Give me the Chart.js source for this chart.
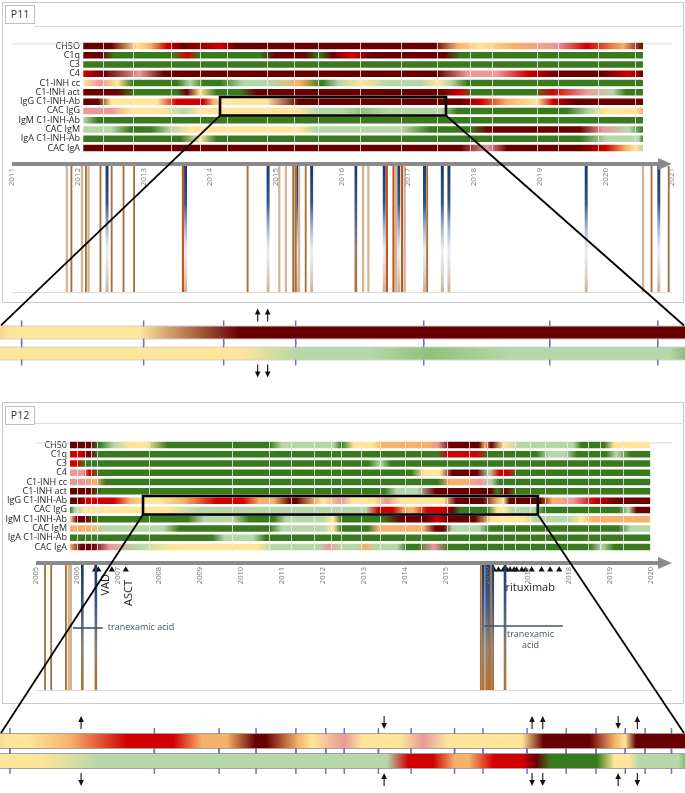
<!DOCTYPE html>
<html>
<head>
<meta charset="utf-8">
<script src="https://cdn.jsdelivr.net/npm/chart.js@4.4.1/dist/chart.umd.min.js"></script>
<style>
  body { margin: 0; width: 685px; height: 793px; position: relative; background: #fff; overflow: hidden; font-family: 'Open Sans', sans-serif; }
  canvas { position: absolute; }
  .frame { position: absolute; border: 1px solid #c8c8c8; }
  .sep { position: absolute; height: 1px; background: #dcdcdc; }
  .tag { position: absolute; border: 1px solid #bdbdbd; font-size: 10.5px; color: #333; text-align: center; line-height: 17px; background: #fff; }
</style>
</head>
<body>
<div class="frame" style="left:2px;top:2px;width:680px;height:299px"></div>
<div class="sep" style="left:34px;top:26px;width:648px"></div>
<div class="tag" style="left:5px;top:5px;width:28px;height:17px">P11</div>
<div class="frame" style="left:2px;top:402px;width:680px;height:300px"></div>
<div class="sep" style="left:34px;top:423px;width:648px"></div>
<div class="tag" style="left:5px;top:406px;width:28px;height:17px">P12</div>
<script>
// colour levels used in the heat rows
const PALETTE = { G: '#3a7a1f', M: '#8fc27a', L: '#b6d7a8', Y: '#ffe599', O: '#f6b26b', P: '#ea9999', R: '#d00000', D: '#680000' };

// ---------- P11 ----------
const labels11 = ['CH5O', 'C1q', 'C3', 'C4', 'C1-INH cc', 'C1-INH act', 'IgG C1-INH-Ab', 'CAC IgG', 'IgM C1-INH-Ab', 'CAC IgM', 'IgA C1-INH-Ab', 'CAC IgA'];
const years11 = [2011, 2012, 2013, 2014, 2015, 2016, 2017, 2018, 2019, 2020, 2021];
const ch50_11 = [[2012.08,'D'],[2012.5,'D'],[2012.89,'Y'],[2013.1,'O'],[2013.35,'R'],[2013.6,'D'],[2014.15,'R'],[2014.4,'D'],[2017.4,'D'],[2017.75,'O'],[2018.1,'Y'],[2018.6,'O'],[2019.26,'P'],[2019.71,'R'],[2020.26,'O'],[2020.56,'D']];
const c1q_11 = [[2012.08,'D'],[2012.35,'D'],[2012.55,'G'],[2013.45,'G'],[2013.65,'R'],[2013.85,'G'],[2014.75,'G'],[2015.0,'D'],[2015.45,'D'],[2015.65,'G'],[2015.85,'D'],[2016.15,'R'],[2016.45,'D'],[2017.55,'D'],[2017.8,'G'],[2020.56,'G']];
const c3_11 = [[2012.08,'G'],[2020.56,'G']];
const c4_11 = [[2012.08,'R'],[2012.4,'D'],[2012.93,'P'],[2013.3,'D'],[2017.45,'D'],[2017.9,'P'],[2018.35,'P'],[2018.8,'R'],[2019.3,'D'],[2019.95,'D'],[2020.35,'R'],[2020.56,'D']];
const inhcc_11 = [[2012.08,'Y'],[2012.33,'P'],[2012.6,'Y'],[2012.83,'G'],[2013.5,'G'],[2013.7,'L'],[2013.9,'G'],[2014.15,'G'],[2014.5,'L'],[2014.9,'L'],[2015.35,'O'],[2015.7,'G'],[2015.95,'L'],[2016.3,'Y'],[2016.7,'L'],[2017.2,'L'],[2017.45,'Y'],[2017.65,'L'],[2017.9,'G'],[2020.56,'G']];
const inhact_11 = [[2012.08,'D'],[2012.6,'D'],[2012.85,'G'],[2013.5,'G'],[2013.65,'D'],[2013.85,'Y'],[2014.1,'G'],[2014.45,'G'],[2014.7,'D'],[2017.5,'D'],[2017.8,'R'],[2018.0,'G'],[2018.9,'G'],[2019.2,'R'],[2019.7,'P'],[2020.1,'L'],[2020.3,'G'],[2020.56,'G']];
const iggAb_11 = [[2012.08,'D'],[2012.3,'D'],[2012.5,'Y'],[2013.2,'Y'],[2013.5,'R'],[2013.9,'R'],[2014.05,'O'],[2014.2,'Y'],[2014.85,'Y'],[2015.35,'D'],[2017.8,'D'],[2018.1,'R'],[2018.5,'O'],[2018.95,'Y'],[2019.2,'R'],[2019.5,'D'],[2020.56,'D']];
const cacIgG_11 = [[2012.08,'P'],[2012.5,'P'],[2012.8,'Y'],[2013.3,'Y'],[2013.6,'L'],[2013.85,'Y'],[2015.35,'Y'],[2015.65,'L'],[2016.0,'L'],[2016.3,'M'],[2016.7,'L'],[2017.5,'L'],[2017.75,'G'],[2019.4,'G'],[2019.75,'L'],[2020.0,'Y'],[2020.45,'Y'],[2020.56,'O']];
const igmAb_11 = [[2012.08,'L'],[2012.3,'G'],[2020.56,'G']];
const cacIgM_11 = [[2012.08,'L'],[2012.5,'L'],[2012.8,'G'],[2013.1,'G'],[2013.4,'L'],[2013.7,'Y'],[2015.35,'Y'],[2015.6,'L'],[2016.9,'L'],[2017.35,'G'],[2017.95,'G'],[2018.2,'D'],[2019.6,'D'],[2019.95,'P'],[2020.35,'L'],[2020.56,'G']];
const igaAb_11 = [[2012.08,'G'],[2013.55,'G'],[2013.85,'Y'],[2014.1,'G'],[2019.6,'G'],[2020.0,'L'],[2020.5,'L'],[2020.56,'G']];
const cacIgA_11 = [[2012.08,'D'],[2017.8,'D'],[2018.2,'P'],[2018.5,'D'],[2019.6,'D'],[2020.0,'R'],[2020.3,'O'],[2020.45,'Y'],[2020.56,'L']];
const rows11 = [ch50_11, c1q_11, c3_11, c4_11, inhcc_11, inhact_11, iggAb_11, cacIgG_11, igmAb_11, cacIgM_11, igaAb_11, cacIgA_11];
const samples11 = [2012.38, 2012.83, 2013.41, 2013.85, 2014.26, 2014.87, 2015.27, 2015.63, 2016.27, 2016.9, 2017.44, 2017.94, 2018.27, 2018.95, 2019.27, 2019.88, 2020.44];
// b brown, t tan, o orange, n navy fading, m navy to brown
const lines11 = [[2011.83,'t'],[2011.90,'b'],[2012.06,'t'],[2012.12,'b'],[2012.16,'t'],[2012.34,'b'],[2012.44,'n'],[2012.51,'b'],[2012.69,'b'],[2012.85,'b'],[2013.59,'o'],[2013.63,'n'],[2014.57,'b'],[2014.88,'n'],[2015.05,'t'],[2015.15,'t'],[2015.26,'b'],[2015.28,'t'],[2015.30,'b'],[2015.33,'n'],[2015.35,'t'],[2015.45,'b'],[2015.54,'n'],[2016.21,'m'],[2016.32,'t'],[2016.40,'t'],[2016.64,'n'],[2016.68,'o'],[2016.78,'o'],[2016.82,'t'],[2016.86,'n'],[2016.91,'o'],[2016.95,'t'],[2017.25,'n'],[2017.29,'b'],[2017.52,'n'],[2017.62,'n'],[2019.70,'n'],[2020.56,'t'],[2020.69,'b'],[2020.80,'n'],[2020.95,'b']];
const zoom11 = [2014.152, 2017.576];
const arrowsIgG11 = [[2015.44,'up'],[2015.49,'up']];
const arrowsCAC11 = [[2015.44,'down'],[2015.49,'down']];

// ---------- P12 ----------
const labels12 = ['CH50', 'C1q', 'C3', 'C4', 'C1-INH cc', 'C1-INH act', 'IgG C1-INH-Ab', 'CAC IgG', 'IgM C1-INH-Ab', 'CAC IgM', 'IgA C1-INH-Ab', 'CAC IgA'];
const years12 = [2005, 2006, 2007, 2008, 2009, 2010, 2011, 2012, 2013, 2014, 2015, 2016, 2017, 2018, 2019, 2020];
const ch50_12 = [[2005.83,'D'],[2006.3,'D'],[2006.55,'G'],[2006.9,'L'],[2007.3,'Y'],[2007.7,'Y'],[2008.2,'G'],[2010.7,'G'],[2011.0,'L'],[2012.25,'L'],[2012.45,'G'],[2012.75,'Y'],[2013.2,'Y'],[2013.45,'O'],[2014.55,'O'],[2014.8,'P'],[2015.1,'D'],[2015.8,'D'],[2015.95,'O'],[2016.1,'D'],[2016.4,'Y'],[2016.8,'L'],[2018.1,'L'],[2018.3,'G'],[2018.85,'G'],[2019.1,'Y'],[2019.98,'Y']];
const c1q_12 = [[2005.83,'R'],[2006.1,'R'],[2006.3,'D'],[2006.55,'G'],[2014.8,'G'],[2015.05,'R'],[2015.75,'R'],[2016.05,'G'],[2017.2,'G'],[2017.5,'L'],[2017.9,'L'],[2018.2,'G'],[2018.9,'G'],[2019.15,'L'],[2019.5,'G'],[2019.98,'G']];
const c3_12 = [[2005.83,'R'],[2006.0,'R'],[2006.2,'G'],[2013.1,'G'],[2013.4,'L'],[2013.65,'G'],[2019.98,'G']];
const c4_12 = [[2005.83,'P'],[2006.15,'P'],[2006.3,'R'],[2006.55,'G'],[2014.15,'G'],[2014.45,'Y'],[2014.85,'Y'],[2015.15,'D'],[2015.75,'D'],[2016.05,'L'],[2016.3,'R'],[2016.5,'R'],[2016.75,'G'],[2019.98,'G']];
const inhcc_12 = [[2005.83,'P'],[2006.2,'P'],[2006.45,'O'],[2006.7,'G'],[2014.8,'G'],[2015.1,'O'],[2015.5,'O'],[2015.85,'P'],[2016.1,'L'],[2016.3,'G'],[2019.98,'G']];
const inhact_12 = [[2005.83,'D'],[2006.3,'D'],[2006.6,'G'],[2013.5,'G'],[2013.8,'L'],[2014.3,'L'],[2014.75,'D'],[2016.1,'D'],[2016.25,'G'],[2016.45,'D'],[2016.7,'G'],[2019.98,'G']];
const iggAb_12 = [[2005.83,'D'],[2006.05,'D'],[2006.25,'R'],[2006.9,'R'],[2007.3,'O'],[2007.7,'Y'],[2008.0,'Y'],[2008.6,'O'],[2009.4,'R'],[2010.05,'R'],[2010.45,'O'],[2010.8,'O'],[2011.2,'D'],[2011.35,'D'],[2011.8,'O'],[2012.0,'Y'],[2012.45,'P'],[2012.7,'Y'],[2013.25,'Y'],[2013.55,'P'],[2013.9,'Y'],[2014.95,'Y'],[2015.25,'D'],[2015.9,'D'],[2016.25,'O'],[2016.4,'Y'],[2016.55,'D'],[2017.3,'D'],[2017.6,'O'],[2018.1,'P'],[2018.6,'R'],[2019.2,'D'],[2019.98,'D']];
const cacIgG_12 = [[2005.83,'G'],[2005.95,'L'],[2006.2,'Y'],[2008.2,'Y'],[2009.0,'L'],[2013.05,'L'],[2013.35,'R'],[2013.7,'R'],[2014.0,'O'],[2014.2,'O'],[2014.55,'R'],[2014.95,'R'],[2015.15,'D'],[2015.35,'G'],[2016.0,'G'],[2016.25,'Y'],[2016.45,'Y'],[2016.6,'L'],[2017.15,'L'],[2017.4,'G'],[2019.2,'G'],[2019.45,'L'],[2019.65,'D'],[2019.98,'D']];
const igmAb_12 = [[2005.83,'Y'],[2006.0,'D'],[2006.2,'D'],[2006.5,'G'],[2008.7,'G'],[2009.1,'L'],[2009.8,'L'],[2010.2,'G'],[2010.8,'G'],[2011.1,'L'],[2012.0,'L'],[2012.25,'Y'],[2012.45,'G'],[2013.4,'G'],[2013.9,'D'],[2014.5,'D'],[2014.8,'R'],[2015.05,'D'],[2015.7,'D'],[2016.1,'Y'],[2016.9,'Y'],[2017.2,'L'],[2018.0,'L'],[2018.3,'Y'],[2018.6,'O'],[2019.98,'O']];
const cacIgM_12 = [[2005.83,'O'],[2006.3,'O'],[2006.7,'L'],[2008.1,'L'],[2008.5,'G'],[2010.7,'G'],[2011.0,'L'],[2012.0,'L'],[2012.25,'Y'],[2012.45,'G'],[2013.1,'G'],[2013.35,'O'],[2014.45,'O'],[2014.75,'D'],[2014.95,'D'],[2015.15,'L'],[2015.8,'L'],[2016.1,'G'],[2019.2,'G'],[2019.5,'L'],[2019.98,'L']];
const igaAb_12 = [[2005.83,'G'],[2009.3,'G'],[2009.6,'L'],[2010.3,'L'],[2010.6,'G'],[2019.98,'G']];
const cacIgA_12 = [[2005.83,'O'],[2006.1,'D'],[2006.4,'D'],[2006.8,'P'],[2007.5,'L'],[2008.3,'Y'],[2010.4,'Y'],[2010.8,'L'],[2011.9,'L'],[2012.15,'P'],[2012.4,'L'],[2012.8,'L'],[2013.05,'O'],[2013.3,'L'],[2013.8,'L'],[2014.05,'G'],[2014.3,'G'],[2014.7,'P'],[2015.05,'G'],[2018.5,'G'],[2018.8,'L'],[2019.1,'G'],[2019.98,'G']];
const rows12 = [ch50_12, c1q_12, c3_12, c4_12, inhcc_12, inhact_12, iggAb_12, cacIgG_12, igmAb_12, cacIgM_12, igaAb_12, cacIgA_12];
const samples12 = [2005.99, 2006.20, 2006.33, 2006.48, 2007.75, 2009.78, 2010.69, 2011.21, 2011.77, 2012.19, 2012.45, 2012.93, 2013.39, 2014.0, 2014.40, 2015.02, 2015.57, 2015.99, 2016.40, 2016.68, 2017.05, 2017.41, 2017.95, 2018.46, 2018.76, 2019.32];
const lines12 = [[2005.22,'b'],[2005.37,'b'],[2005.73,'b'],[2005.80,'t'],[2005.85,'t'],[2006.13,'m'],[2006.46,'m'],[2015.85,'b'],[2015.91,'m'],[2015.99,'m'],[2016.05,'m'],[2016.09,'b'],[2016.14,'m'],[2016.44,'m']];
const vad12 = [2006.44, 2006.52, 2006.85];
const asct12 = [2007.19];
const rituximab12 = [2016.17, 2016.28, 2016.40, 2016.48, 2016.56, 2016.66, 2016.72, 2016.85, 2016.94, 2017.09, 2017.33, 2017.54, 2017.76];
const tranexamic12 = [[2005.90, 2006.63], [2015.93, 2017.85]];
const zoom12 = [2007.61, 2017.24];
const arrowsIgG12 = [[2008.75,'up'],[2013.01,'down'],[2015.09,'up'],[2015.24,'up'],[2016.30,'down'],[2016.57,'up']];
const arrowsCAC12 = [[2008.75,'down'],[2013.01,'up'],[2015.09,'down'],[2015.24,'down'],[2016.30,'up'],[2016.57,'down']];

// page layout (pixels)
const L11 = { heatTop: 33, heatH: 128, labelW: 83, x0: 12, x1: 672, yr0: 2011, yr1: 2021, tlTop: 156, tlH: 138, tlPad: 10, yearFont: 8, enlTop: 300, enlH: 82, enlPadT: 22, enlPadB: 18, barPct: 0.67 };
const L12 = { heatTop: 432, heatH: 128, labelW: 70, x0: 36, x1: 672, yr0: 2005, yr1: 2020.512, tlTop: 553, tlH: 141, tlPad: 12, yearFont: 7.5, enlTop: 706, enlH: 87, enlPadT: 25, enlPadB: 22, barPct: 0.8 };
const SIDE = 10; // spare room each side of the timeline canvas for the year labels

const FONT = 'Open Sans';

function makeCanvas(left, top, w, h) {
  const cv = document.createElement('canvas');
  cv.width = w; cv.height = h;
  cv.style.left = left + 'px'; cv.style.top = top + 'px';
  cv.style.width = w + 'px'; cv.style.height = h + 'px';
  document.body.appendChild(cv);
  return cv;
}

function gradFill(rows) {
  return (c) => {
    const chart = c.chart, x = chart.scales.x, stops = rows[c.dataIndex];
    if (!chart.chartArea || !x || !stops) return PALETTE.G;
    const a = stops[0][0], b = stops[stops.length - 1][0];
    const g = chart.ctx.createLinearGradient(x.getPixelForValue(a), 0, x.getPixelForValue(b), 0);
    stops.forEach(([yr, k]) => g.addColorStop((yr - a) / (b - a), PALETTE[k]));
    return g;
  };
}

function navyFill(kind) {
  return (c) => {
    const a = c.chart.chartArea;
    if (!a) return '#1f3c6e';
    const g = c.chart.ctx.createLinearGradient(0, a.top, 0, a.bottom);
    g.addColorStop(0, '#1c386a');
    if (kind === 'n') {
      g.addColorStop(0.3, '#35548a'); g.addColorStop(0.68, 'rgba(215,220,232,0.5)'); g.addColorStop(1, '#cfae8c');
    } else {
      g.addColorStop(0.3, '#3a5688'); g.addColorStop(0.65, '#8e8070'); g.addColorStop(1, '#b2702f');
    }
    return g;
  };
}

const LINE_STYLE = { b: ['#a8703c', 1.2], t: ['#d3b493', 1.6], o: ['#c4561b', 1.5], n: [navyFill('n'), 2.3], m: [navyFill('m'), 2] };

function heatChart(L, labels, rows, samples) {
  const cv = makeCanvas(0, L.heatTop, L.x1, L.heatH);
  const pxYear = (L.x1 - L.x0) / (L.yr1 - L.yr0);
  return new Chart(cv, {
    type: 'bar',
    data: {
      labels,
      datasets: [{
        data: rows.map(r => [r[0][0], r[r.length - 1][0]]),
        backgroundColor: gradFill(rows),
        barPercentage: 0.7,
        categoryPercentage: 1
      }]
    },
    options: {
      indexAxis: 'y', responsive: false, animation: false,
      plugins: { legend: { display: false }, tooltip: { enabled: false } },
      scales: {
        x: { type: 'linear', min: L.yr0 + (L.labelW - L.x0) / pxYear, max: L.yr1, display: false },
        y: {
          afterFit(s) { s.width = L.labelW; },
          grid: { display: false, drawTicks: false }, border: { display: false },
          ticks: { autoSkip: false, color: '#262626', padding: 3, font: { family: FONT, size: 9 } }
        }
      }
    },
    plugins: [{
      id: 'samples',
      beforeDatasetsDraw(c) {
        const x = c.scales.x, ctx = c.ctx;
        ctx.save();
        ctx.strokeStyle = '#d9d9d9'; ctx.lineWidth = 1;
        ctx.beginPath();
        ctx.moveTo(x.getPixelForValue(L.yr0), c.chartArea.top + 2.5);
        ctx.lineTo(x.getPixelForValue(L.yr1), c.chartArea.top + 2.5);
        ctx.stroke();
        ctx.restore();
      },
      afterDatasetsDraw(c) {
        const x = c.scales.x, ctx = c.ctx, a = c.chartArea;
        ctx.save();
        ctx.strokeStyle = 'rgba(235,235,235,0.8)'; ctx.lineWidth = 1;
        samples.forEach(s => {
          const px = Math.round(x.getPixelForValue(s)) + 0.5;
          ctx.beginPath(); ctx.moveTo(px, a.top); ctx.lineTo(px, a.bottom); ctx.stroke();
        });
        ctx.restore();
      }
    }]
  });
}

function timelineChart(L, lines, years, extra) {
  const cv = makeCanvas(L.x0 - SIDE, L.tlTop, L.x1 - L.x0 + 2 * SIDE, L.tlH);
  const datasets = Object.keys(LINE_STYLE).map(k => ({
    data: lines.filter(l => l[1] === k).map(l => ({ x: l[0], y: [0, 1] })),
    backgroundColor: LINE_STYLE[k][0],
    barThickness: LINE_STYLE[k][1],
    grouped: false
  }));
  if (extra && extra.triangles) {
    datasets.push({
      type: 'scatter',
      data: extra.triangles.map(t => ({ x: t, y: 0.962 })),
      pointStyle: 'triangle', radius: 3.6, backgroundColor: '#111', borderColor: '#111', borderWidth: 0
    });
  }
  return new Chart(cv, {
    type: 'bar',
    data: { datasets },
    options: {
      responsive: false, animation: false,
      layout: { padding: { top: L.tlPad, bottom: 2, left: SIDE, right: SIDE } },
      plugins: { legend: { display: false }, tooltip: { enabled: false } },
      scales: {
        x: { type: 'linear', min: L.yr0, max: L.yr1, display: false, offset: false },
        y: { min: 0, max: 1, display: false }
      }
    },
    plugins: [{
      id: 'axis',
      afterDatasetsDraw(c) {
        const x = c.scales.x, ctx = c.ctx, a = c.chartArea;
        ctx.save();
        // bottom line
        ctx.strokeStyle = '#d9d9d9'; ctx.lineWidth = 1;
        ctx.beginPath(); ctx.moveTo(a.left, a.bottom + 0.5); ctx.lineTo(a.right, a.bottom + 0.5); ctx.stroke();
        // axis arrow
        const ay = a.top - 2;
        ctx.fillStyle = '#8a8a8a';
        ctx.fillRect(a.left, ay - 2, a.right - a.left - 12, 4);
        ctx.beginPath(); ctx.moveTo(a.right - 14, ay - 6); ctx.lineTo(a.right, ay); ctx.lineTo(a.right - 14, ay + 6); ctx.closePath(); ctx.fill();
        // year labels
        ctx.fillStyle = '#7a7a7a';
        ctx.font = L.yearFont + 'px ' + FONT;
        ctx.textAlign = 'right'; ctx.textBaseline = 'middle';
        years.forEach(yr => {
          ctx.save();
          ctx.translate(x.getPixelForValue(yr), a.top + 2);
          ctx.rotate(-Math.PI / 2);
          ctx.fillText(String(yr), 0, 0);
          ctx.restore();
        });
        if (extra && extra.draw) extra.draw(c, ctx);
        ctx.restore();
      }
    }]
  });
}

function zoomChart(L, rowsPair, samples, win, arrowsTop, arrowsBot) {
  const cv = makeCanvas(0, L.enlTop, 685, L.enlH);
  return new Chart(cv, {
    type: 'bar',
    data: {
      labels: ['a', 'b'],
      datasets: [{
        data: rowsPair.map(r => [r[0][0], r[r.length - 1][0]]),
        backgroundColor: gradFill(rowsPair),
        borderColor: 'rgba(140,140,140,0.8)', borderWidth: 1, borderSkipped: false,
        barPercentage: L.barPct, categoryPercentage: 1
      }]
    },
    options: {
      indexAxis: 'y', responsive: false, animation: false,
      layout: { padding: { top: L.enlPadT, bottom: L.enlPadB } },
      plugins: { legend: { display: false }, tooltip: { enabled: false } },
      scales: {
        x: { type: 'linear', min: win[0], max: win[1], display: false },
        y: { display: false }
      }
    },
    plugins: [{
      id: 'marks',
      afterDatasetsDraw(c) {
        const x = c.scales.x, ctx = c.ctx;
        const bars = c.getDatasetMeta(0).data;
        ctx.save();
        ctx.strokeStyle = '#7b70b8'; ctx.lineWidth = 1.5;
        samples.filter(s => s > win[0] && s < win[1]).forEach(s => {
          const px = x.getPixelForValue(s);
          bars.forEach(b => {
            const t = b.y - b.height / 2, btm = b.y + b.height / 2;
            ctx.beginPath(); ctx.moveTo(px, t - 5); ctx.lineTo(px, t + 1); ctx.stroke();
            ctx.beginPath(); ctx.moveTo(px, btm - 1); ctx.lineTo(px, btm + 5); ctx.stroke();
          });
        });
        const arrow = (px, yA, yB, dir) => {
          const tip = dir === 'up' ? yA : yB, tail = dir === 'up' ? yB : yA, s = dir === 'up' ? 1 : -1;
          ctx.strokeStyle = '#111'; ctx.fillStyle = '#111'; ctx.lineWidth = 1.1;
          ctx.beginPath(); ctx.moveTo(px, tail); ctx.lineTo(px, tip + 4 * s); ctx.stroke();
          ctx.beginPath(); ctx.moveTo(px, tip); ctx.lineTo(px - 2.8, tip + 6 * s); ctx.lineTo(px + 2.8, tip + 6 * s); ctx.closePath(); ctx.fill();
        };
        const top = bars[0].y - bars[0].height / 2, bot = bars[1].y + bars[1].height / 2;
        arrowsTop.forEach(([yr, d]) => arrow(x.getPixelForValue(yr), top - 17, top - 4, d));
        arrowsBot.forEach(([yr, d]) => arrow(x.getPixelForValue(yr), bot + 4, bot + 17, d));
        ctx.restore();
      }
    }]
  });
}

// ---------- build ----------
const heat11 = heatChart(L11, labels11, rows11, samples11);
timelineChart(L11, lines11, years11, null);
const enl11 = zoomChart(L11, [iggAb_11, cacIgG_11], samples11, zoom11, arrowsIgG11, arrowsCAC11);

const heat12 = heatChart(L12, labels12, rows12, samples12);
timelineChart(L12, lines12, years12, {
  triangles: vad12.concat(asct12, rituximab12),
  draw(c, ctx) {
    const x = c.scales.x, a = c.chartArea;
    ctx.fillStyle = '#1a1a1a';
    ctx.font = '11px ' + FONT;
    ctx.textAlign = 'right'; ctx.textBaseline = 'middle';
    [['VAD', 2006.71, 9], ['ASCT', 2007.27, 15]].forEach(([t, yr, dy]) => {
      ctx.save();
      ctx.translate(x.getPixelForValue(yr), a.top + dy);
      ctx.rotate(-Math.PI / 2);
      ctx.fillText(t, 0, 0);
      ctx.restore();
    });
    ctx.textAlign = 'left'; ctx.textBaseline = 'alphabetic';
    ctx.fillText('rituximab', x.getPixelForValue(2016.45), a.top + 26);
    // tranexamic acid periods
    ctx.strokeStyle = '#44546a'; ctx.lineWidth = 1.6; ctx.fillStyle = '#44546a';
    ctx.font = '9px ' + FONT;
    const [t1, t2] = tranexamic12;
    let ly = a.top + 63;
    ctx.beginPath(); ctx.moveTo(x.getPixelForValue(t1[0]), ly); ctx.lineTo(x.getPixelForValue(t1[1]), ly); ctx.stroke();
    ctx.textBaseline = 'middle';
    ctx.fillText('tranexamic acid', x.getPixelForValue(t1[1]) + 5, ly - 1);
    ly = a.top + 61;
    ctx.beginPath(); ctx.moveTo(x.getPixelForValue(t2[0]), ly); ctx.lineTo(x.getPixelForValue(t2[1]), ly); ctx.stroke();
    ctx.textAlign = 'center';
    const cx = (x.getPixelForValue(t2[0]) + x.getPixelForValue(t2[1])) / 2 + 7;
    ctx.fillText('tranexamic', cx, ly + 8);
    ctx.fillText('acid', cx, ly + 19);
  }
});
const enl12 = zoomChart(L12, [iggAb_12, cacIgG_12], samples12, zoom12, arrowsIgG12, arrowsCAC12);

// zoom boxes and connector lines on top
const over = makeCanvas(0, 0, 685, 793);
const octx = over.getContext('2d');
function drawZoom(heat, heatTop, enl, enlTop, win) {
  const hx = heat.scales.x, hy = heat.scales.y;
  const half = (hy.getPixelForValue(1) - hy.getPixelForValue(0)) / 2;
  const x1 = hx.getPixelForValue(win[0]), x2 = hx.getPixelForValue(win[1]);
  const y1 = heatTop + hy.getPixelForValue(6) - half, y2 = heatTop + hy.getPixelForValue(7) + half;
  const bar = enl.getDatasetMeta(0).data[0];
  const by = enlTop + bar.y - bar.height / 2;
  octx.strokeStyle = '#000';
  octx.lineWidth = 1.8;
  octx.beginPath(); octx.moveTo(x1, y2); octx.lineTo(1, by); octx.stroke();
  octx.beginPath(); octx.moveTo(x2, y2); octx.lineTo(684, by); octx.stroke();
  octx.lineWidth = 2.6;
  octx.strokeRect(x1, y1, x2 - x1, y2 - y1);
}
drawZoom(heat11, L11.heatTop, enl11, L11.enlTop, zoom11);
drawZoom(heat12, L12.heatTop, enl12, L12.enlTop, zoom12);
</script>
</body>
</html>
